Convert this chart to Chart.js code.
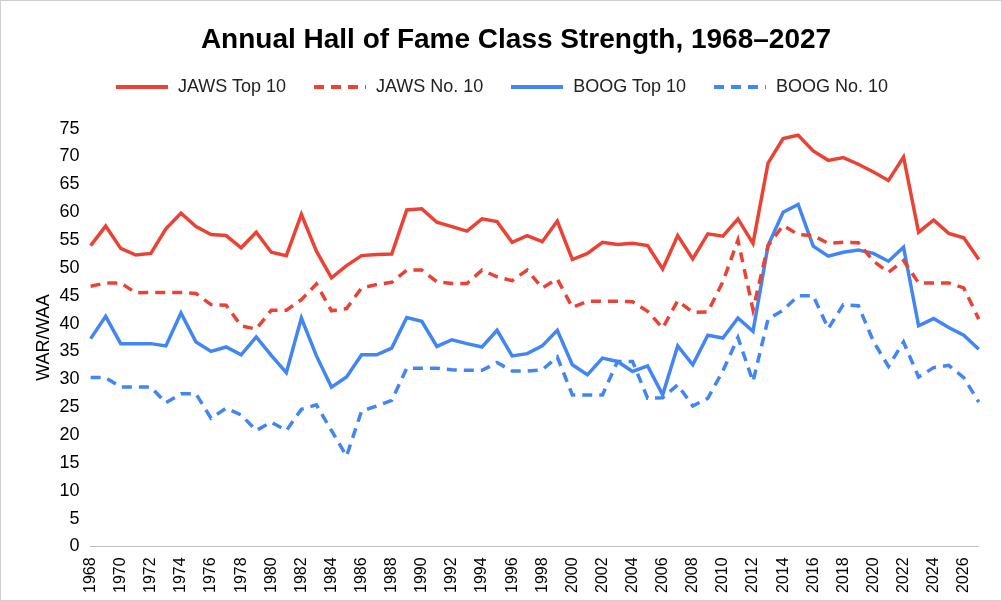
<!DOCTYPE html>
<html><head><meta charset="utf-8">
<script src="https://cdn.jsdelivr.net/npm/chart.js@4"></script>
<style>html,body{margin:0;padding:0;background:#fff}#w{width:1000px;height:599px;border:1px solid #d0d0d0;position:relative;font-family:Arial,"Liberation Sans",sans-serif}
#lg{position:absolute;top:75px;left:0;width:1000px;display:flex;justify-content:center;gap:26px;font-size:18px;color:#222}
#lg span{display:flex;align-items:center;gap:8px}</style>
</head><body><div id="w"><canvas id="c"></canvas><div id="lg"></div></div>
<script>
const years=[];for(let y=1968;y<=2027;y++)years.push(String(y));
const jawsTop10=[54,57.5,53.5,52.3,52.6,57,59.8,57.4,56,55.8,53.6,56.4,52.8,52.2,59.6,53,48.2,50.4,52.2,52.4,52.5,60.4,60.6,58.2,57.4,56.6,58.8,58.3,54.6,55.8,54.7,58.4,51.5,52.6,54.6,54.2,54.4,54,49.8,55.8,51.6,56.1,55.7,58.8,54.4,68.8,73.2,73.8,71,69.3,69.8,68.6,67.2,65.7,69.9,56.4,58.6,56.2,55.4,51.5];
const jawsNo10=[46.7,47.3,47.3,45.5,45.6,45.6,45.6,45.4,43.4,43.3,39.6,39,42.4,42.4,44.3,47.1,42.3,42.7,46.4,47,47.4,49.6,49.6,47.5,47.2,47.2,49.6,48.4,47.7,49.6,46.4,48,42.9,44,44,44,43.9,42.2,39.2,44.1,42,42.1,47.5,55,42.5,54,57.6,56,55.8,54.4,54.6,54.5,51.2,49.2,51.3,47.3,47.3,47.3,46.4,40.8];
const boogTop10=[37.3,41.3,36.4,36.4,36.4,36,41.9,36.7,35,35.8,34.4,37.6,34.3,31.2,41,34.2,28.6,30.4,34.4,34.4,35.6,41.1,40.4,35.9,37.1,36.4,35.8,38.8,34.2,34.6,36,38.8,32.6,30.8,33.8,33.2,31.4,32.4,27.2,36,32.6,37.9,37.4,41,38.6,54,60,61.4,53.9,52.1,52.8,53.2,52.6,51.2,53.7,39.6,40.9,39.3,37.9,35.4];
const boogNo10=[30.3,30.3,28.6,28.6,28.6,25.8,27.4,27.4,23,24.8,23.6,20.8,22.3,20.8,24.6,25.4,20.8,16.2,24.3,25.2,26.2,32,32,32,31.7,31.6,31.6,33,31.5,31.5,31.7,34,27.2,27.2,27.2,33.2,33.2,26.6,26.7,29,25.2,26.6,31.5,37.5,29.6,40.8,42.4,45,45,39.1,43.4,43.2,36.8,32.3,36.7,30.4,32.1,32.5,30.3,25.9];
const RED='#EA4335',BLUE='#4285F4';
const ds=(l,d,c,dash)=>({label:l,data:d,borderColor:c,backgroundColor:c,borderWidth:3.5,borderDash:dash,pointRadius:0,tension:0,fill:false});
const datasets=[ds('JAWS Top 10',jawsTop10,RED,[]),ds('JAWS No. 10',jawsNo10,RED,[10,7]),ds('BOOG Top 10',boogTop10,BLUE,[]),ds('BOOG No. 10',boogNo10,BLUE,[10,7])];
document.getElementById('lg').innerHTML=datasets.map(d=>`<span><svg width="56" height="6"><line x1="2" y1="3" x2="54" y2="3" stroke="${d.borderColor}" stroke-width="4" stroke-dasharray="${d.borderDash.join(' ')}"/></svg>${d.label}</span>`).join('');
Chart.defaults.font.family='Arial, "Liberation Sans", sans-serif';
Chart.defaults.color='#000';
new Chart(document.getElementById('c'),{type:'line',
data:{labels:years,datasets},
options:{responsive:true,maintainAspectRatio:false,animation:false,
layout:{padding:{left:30,right:0,top:14,bottom:4}},
plugins:{title:{display:true,text:'Annual Hall of Fame Class Strength, 1968–2027',font:{size:28,weight:'bold'},padding:{top:8,bottom:72}},
legend:{display:false},tooltip:{enabled:false}},
scales:{x:{grid:{display:false},border:{color:'#bfbfbf'},offset:false,
ticks:{autoSkip:false,maxRotation:90,minRotation:90,font:{size:16},callback:(v,i)=>i%2===0?years[i]:''}},
y:{min:0,max:75,grid:{display:false},border:{display:false},ticks:{stepSize:5,font:{size:18}},
title:{display:true,text:'WAR/WAA',font:{size:18},padding:2}}}}});
</script></body></html>
